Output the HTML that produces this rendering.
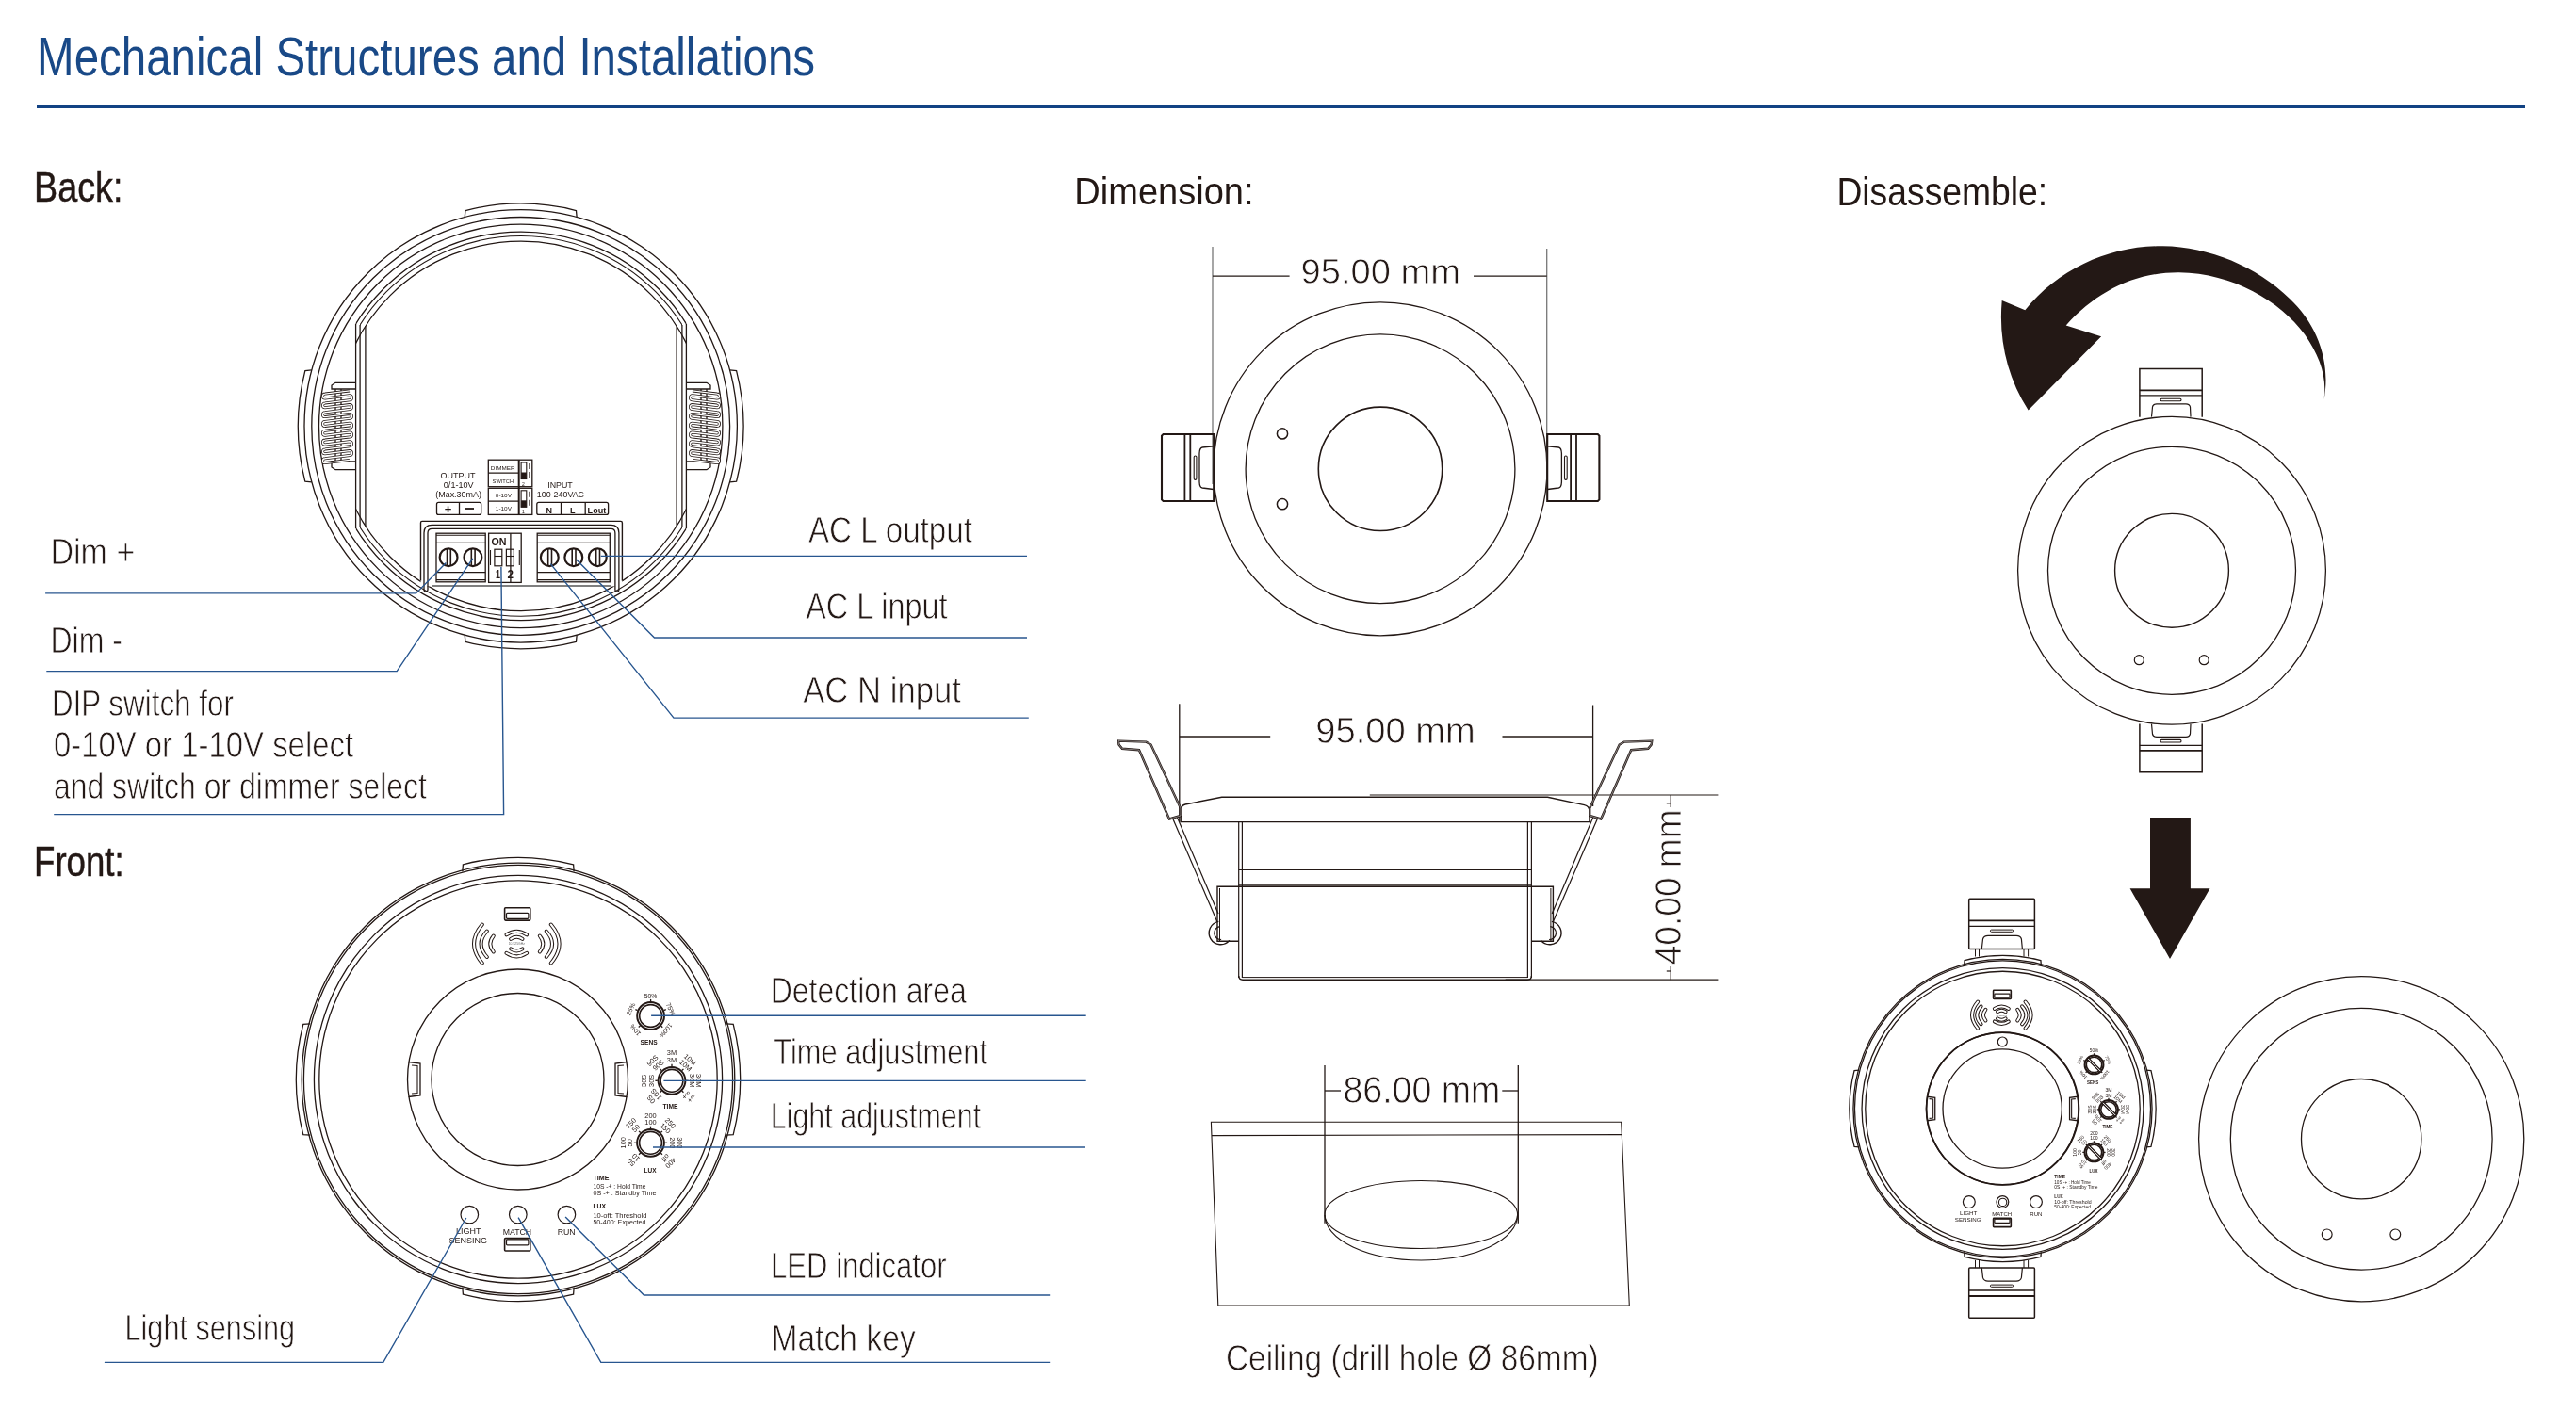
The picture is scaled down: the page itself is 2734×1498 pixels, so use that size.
<!DOCTYPE html>
<html><head><meta charset="utf-8"><style>
html,body{margin:0;padding:0;background:#fff;width:2734px;height:1498px;overflow:hidden}
svg{position:absolute;left:0;top:0;display:block;will-change:transform}
text{font-family:"Liberation Sans",sans-serif}
</style></head><body>
<svg width="2734" height="1498" viewBox="0 0 2734 1498">
<defs><clipPath id="strip"><rect x="377.6" y="0" width="350.8" height="1000"/></clipPath><clipPath id="strip2"><rect x="382.1" y="0" width="341.8" height="1000"/></clipPath><g id="front"><circle cx="550" cy="1146" r="229.8" stroke="#231815" vector-effect="non-scaling-stroke" stroke-width="1.3" fill="none" />
<circle cx="550" cy="1146" r="227.6" stroke="#231815" vector-effect="non-scaling-stroke" stroke-width="1.3" fill="none" />
<circle cx="550" cy="1146" r="216.6" stroke="#231815" vector-effect="non-scaling-stroke" stroke-width="1.3" fill="none" />
<circle cx="550" cy="1146" r="211.2" stroke="#231815" vector-effect="non-scaling-stroke" stroke-width="1.3" fill="none" />
<path d="M490.83 925.19 L491.41 917.8 A235.6 235.6 0 0 1 608.59 917.8 L609.17 925.19" stroke="#231815" vector-effect="non-scaling-stroke" stroke-width="1.3" fill="none" />
<path d="M609.17 1366.81 L608.59 1374.2 A235.6 235.6 0 0 1 491.41 1374.2 L490.83 1366.81" stroke="#231815" vector-effect="non-scaling-stroke" stroke-width="1.3" fill="none" />
<path d="M329.19 1205.17 L321.8 1204.59 A235.6 235.6 0 0 1 321.8 1087.41 L329.19 1086.83" stroke="#231815" vector-effect="non-scaling-stroke" stroke-width="1.3" fill="none" />
<path d="M770.81 1086.83 L778.2 1087.41 A235.6 235.6 0 0 1 778.2 1204.59 L770.81 1205.17" stroke="#231815" vector-effect="non-scaling-stroke" stroke-width="1.3" fill="none" />
<circle cx="549.5" cy="1146" r="117" stroke="#231815" vector-effect="non-scaling-stroke" stroke-width="1.3" fill="none" />
<circle cx="549.5" cy="1146" r="91.5" stroke="#231815" vector-effect="non-scaling-stroke" stroke-width="1.3" fill="none" />
<path d="M433.5 1127.5 L446 1129 L446 1163 L433.5 1164.5" stroke="#231815" vector-effect="non-scaling-stroke" stroke-width="1.3" fill="none" />
<path d="M437 1131 L443 1131.5 L443 1160.5 L437 1161" stroke="#231815" vector-effect="non-scaling-stroke" stroke-width="1.1" fill="none" />
<path d="M665.5 1127.5 L653 1129 L653 1163 L665.5 1164.5" stroke="#231815" vector-effect="non-scaling-stroke" stroke-width="1.3" fill="none" />
<path d="M662 1131 L656 1131.5 L656 1160.5 L662 1161" stroke="#231815" vector-effect="non-scaling-stroke" stroke-width="1.1" fill="none" />
<rect x="535.6" y="963.8" width="27.2" height="13.3" rx="1" stroke="#231815" vector-effect="non-scaling-stroke" stroke-width="1.6" fill="none"/>
<rect x="537.5" y="969.3" width="23.4" height="6" rx="1" stroke="#231815" vector-effect="non-scaling-stroke" stroke-width="1.2" fill="none"/>
<rect x="535.6" y="1314.6" width="27.2" height="13.4" rx="1" stroke="#231815" vector-effect="non-scaling-stroke" stroke-width="1.6" fill="none"/>
<rect x="537.5" y="1315.8" width="23.4" height="6" rx="1" stroke="#231815" vector-effect="non-scaling-stroke" stroke-width="1.2" fill="none"/>
<path d="M511.8 981.5 Q494.3 1002 511.8 1022.5" stroke="#231815" vector-effect="non-scaling-stroke" stroke-width='4.0' fill="none" stroke-linecap="round"/>
<path d="M511.8 981.5 Q494.3 1002 511.8 1022.5" stroke="#fff" vector-effect="non-scaling-stroke" stroke-width='2.0' fill="none" stroke-linecap="round"/>
<path d="M516.8 988.5 Q504.3 1002 516.8 1016" stroke="#231815" vector-effect="non-scaling-stroke" stroke-width='4.0' fill="none" stroke-linecap="round"/>
<path d="M516.8 988.5 Q504.3 1002 516.8 1016" stroke="#fff" vector-effect="non-scaling-stroke" stroke-width='2.0' fill="none" stroke-linecap="round"/>
<path d="M523.8 993.5 Q516.8 1002 523.8 1010.5" stroke="#231815" vector-effect="non-scaling-stroke" stroke-width='4.0' fill="none" stroke-linecap="round"/>
<path d="M523.8 993.5 Q516.8 1002 523.8 1010.5" stroke="#fff" vector-effect="non-scaling-stroke" stroke-width='2.0' fill="none" stroke-linecap="round"/>
<path d="M584.8 981.5 Q602.3 1002 584.8 1022.5" stroke="#231815" vector-effect="non-scaling-stroke" stroke-width='4.0' fill="none" stroke-linecap="round"/>
<path d="M584.8 981.5 Q602.3 1002 584.8 1022.5" stroke="#fff" vector-effect="non-scaling-stroke" stroke-width='2.0' fill="none" stroke-linecap="round"/>
<path d="M579.8 988.5 Q592.3 1002 579.8 1016" stroke="#231815" vector-effect="non-scaling-stroke" stroke-width='4.0' fill="none" stroke-linecap="round"/>
<path d="M579.8 988.5 Q592.3 1002 579.8 1016" stroke="#fff" vector-effect="non-scaling-stroke" stroke-width='2.0' fill="none" stroke-linecap="round"/>
<path d="M572.8 993.5 Q579.8 1002 572.8 1010.5" stroke="#231815" vector-effect="non-scaling-stroke" stroke-width='4.0' fill="none" stroke-linecap="round"/>
<path d="M572.8 993.5 Q579.8 1002 572.8 1010.5" stroke="#fff" vector-effect="non-scaling-stroke" stroke-width='2.0' fill="none" stroke-linecap="round"/>
<path d="M537.5 992.3 Q548.3 985.3 559.1 992.3" stroke="#231815" vector-effect="non-scaling-stroke" stroke-width='4.0' fill="none" stroke-linecap="round"/>
<path d="M537.5 992.3 Q548.3 985.3 559.1 992.3" stroke="#fff" vector-effect="non-scaling-stroke" stroke-width='2.0' fill="none" stroke-linecap="round"/>
<path d="M542.1 996.9 Q548.3 992.7 554.5 996.9" stroke="#231815" vector-effect="non-scaling-stroke" stroke-width='4.0' fill="none" stroke-linecap="round"/>
<path d="M542.1 996.9 Q548.3 992.7 554.5 996.9" stroke="#fff" vector-effect="non-scaling-stroke" stroke-width='2.0' fill="none" stroke-linecap="round"/>
<path d="M537.5 1011.9 Q548.3 1018.9 559.1 1011.9" stroke="#231815" vector-effect="non-scaling-stroke" stroke-width='4.0' fill="none" stroke-linecap="round"/>
<path d="M537.5 1011.9 Q548.3 1018.9 559.1 1011.9" stroke="#fff" vector-effect="non-scaling-stroke" stroke-width='2.0' fill="none" stroke-linecap="round"/>
<path d="M542.1 1007.3 Q548.3 1011.5 554.5 1007.3" stroke="#231815" vector-effect="non-scaling-stroke" stroke-width='4.0' fill="none" stroke-linecap="round"/>
<path d="M542.1 1007.3 Q548.3 1011.5 554.5 1007.3" stroke="#fff" vector-effect="non-scaling-stroke" stroke-width='2.0' fill="none" stroke-linecap="round"/>
<text x="0" y="0" font-size="34" fill="#666" text-anchor="middle" font-weight="normal"  transform="translate(548.3 1003.3) scale(0.1)">10.525GHz</text>
<circle cx="690.6" cy="1078.5" r="14.4" stroke="#231815" vector-effect="non-scaling-stroke" stroke-width="2.0" fill="none" />
<circle cx="690.6" cy="1078.5" r="11.9" stroke="#231815" vector-effect="non-scaling-stroke" stroke-width="1.6" fill="none" />
<line x1="690.6" y1="1063.3" x2="690.6" y2="1060.9" stroke="#231815" vector-effect="non-scaling-stroke" stroke-width="1.3"/>
<line x1="676.61" y1="1072.56" x2="674.4" y2="1071.62" stroke="#231815" vector-effect="non-scaling-stroke" stroke-width="1.3"/>
<line x1="704.59" y1="1072.56" x2="706.8" y2="1071.62" stroke="#231815" vector-effect="non-scaling-stroke" stroke-width="1.3"/>
<line x1="679.48" y1="1088.87" x2="677.73" y2="1090.5" stroke="#231815" vector-effect="non-scaling-stroke" stroke-width="1.3"/>
<line x1="701.53" y1="1089.06" x2="703.26" y2="1090.73" stroke="#231815" vector-effect="non-scaling-stroke" stroke-width="1.3"/>
<text x="0" y="0" font-size="68" fill="#231815" text-anchor="middle" dominant-baseline="central" transform="translate(690.6 1057) rotate(0) scale(0.1)">50%</text>
<text x="0" y="0" font-size="68" fill="#231815" text-anchor="middle" dominant-baseline="central" transform="translate(669.33 1071.17) rotate(-65) scale(0.1)">25%</text>
<text x="0" y="0" font-size="68" fill="#231815" text-anchor="middle" dominant-baseline="central" transform="translate(711.87 1071.17) rotate(65) scale(0.1)">75%</text>
<text x="0" y="0" font-size="68" fill="#231815" text-anchor="middle" dominant-baseline="central" transform="translate(674.29 1093.71) rotate(-130) scale(0.1)">10%</text>
<text x="0" y="0" font-size="68" fill="#231815" text-anchor="middle" dominant-baseline="central" transform="translate(706.79 1094.13) rotate(130) scale(0.1)">100%</text>
<text x="0" y="0" font-size="66" fill="#231815" text-anchor="middle" font-weight="bold" textLength="180" lengthAdjust="spacingAndGlyphs"  transform="translate(688.6 1108.6) scale(0.1)">SENS</text>
<circle cx="713" cy="1147.3" r="14.4" stroke="#231815" vector-effect="non-scaling-stroke" stroke-width="2.0" fill="none" />
<circle cx="713" cy="1147.3" r="11.9" stroke="#231815" vector-effect="non-scaling-stroke" stroke-width="1.6" fill="none" />
<line x1="713" y1="1132.1" x2="713" y2="1129.7" stroke="#231815" vector-effect="non-scaling-stroke" stroke-width="1.3"/>
<line x1="702.25" y1="1136.55" x2="700.55" y2="1134.85" stroke="#231815" vector-effect="non-scaling-stroke" stroke-width="1.3"/>
<line x1="723.75" y1="1136.55" x2="725.45" y2="1134.85" stroke="#231815" vector-effect="non-scaling-stroke" stroke-width="1.3"/>
<line x1="697.8" y1="1147.3" x2="695.4" y2="1147.3" stroke="#231815" vector-effect="non-scaling-stroke" stroke-width="1.3"/>
<line x1="728.2" y1="1147.3" x2="730.6" y2="1147.3" stroke="#231815" vector-effect="non-scaling-stroke" stroke-width="1.3"/>
<line x1="702.25" y1="1158.05" x2="700.55" y2="1159.75" stroke="#231815" vector-effect="non-scaling-stroke" stroke-width="1.3"/>
<line x1="723.75" y1="1158.05" x2="725.45" y2="1159.75" stroke="#231815" vector-effect="non-scaling-stroke" stroke-width="1.3"/>
<text x="0" y="0" font-size="74" fill="#231815" text-anchor="middle" dominant-baseline="central" transform="translate(713 1125) rotate(0) scale(0.1)">3M</text>
<text x="0" y="0" font-size="74" fill="#231815" text-anchor="middle" dominant-baseline="central" transform="translate(713 1117.5) rotate(0) scale(0.1)">3M</text>
<text x="0" y="0" font-size="74" fill="#231815" text-anchor="middle" dominant-baseline="central" transform="translate(727.59 1131.1) rotate(42) scale(0.1)">10M</text>
<text x="0" y="0" font-size="74" fill="#231815" text-anchor="middle" dominant-baseline="central" transform="translate(732.42 1124.96) rotate(41) scale(0.1)">10M</text>
<text x="0" y="0" font-size="74" fill="#231815" text-anchor="middle" dominant-baseline="central" transform="translate(734.8 1147.3) rotate(90) scale(0.1)">30M</text>
<text x="0" y="0" font-size="74" fill="#231815" text-anchor="middle" dominant-baseline="central" transform="translate(741.8 1147.3) rotate(90) scale(0.1)">30M</text>
<text x="0" y="0" font-size="74" fill="#231815" text-anchor="middle" dominant-baseline="central" transform="translate(728.41 1162.71) rotate(135) scale(0.1)">∞+</text>
<text x="0" y="0" font-size="74" fill="#231815" text-anchor="middle" dominant-baseline="central" transform="translate(733.81 1166.04) rotate(132) scale(0.1)">∞+</text>
<text x="0" y="0" font-size="74" fill="#231815" text-anchor="middle" dominant-baseline="central" transform="translate(698.7 1130.85) rotate(-41) scale(0.1)">90S</text>
<text x="0" y="0" font-size="74" fill="#231815" text-anchor="middle" dominant-baseline="central" transform="translate(692.51 1126.08) rotate(-44) scale(0.1)">90S</text>
<text x="0" y="0" font-size="74" fill="#231815" text-anchor="middle" dominant-baseline="central" transform="translate(691.7 1147.3) rotate(270) scale(0.1)">30S</text>
<text x="0" y="0" font-size="74" fill="#231815" text-anchor="middle" dominant-baseline="central" transform="translate(683.7 1147.3) rotate(270) scale(0.1)">30S</text>
<text x="0" y="0" font-size="74" fill="#231815" text-anchor="middle" dominant-baseline="central" transform="translate(696.55 1161.6) rotate(229) scale(0.1)">10S</text>
<text x="0" y="0" font-size="74" fill="#231815" text-anchor="middle" dominant-baseline="central" transform="translate(691.08 1167.04) rotate(228) scale(0.1)">0S</text>
<text x="0" y="0" font-size="66" fill="#231815" text-anchor="middle" font-weight="bold" textLength="160" lengthAdjust="spacingAndGlyphs"  transform="translate(711.5 1177) scale(0.1)">TIME</text>
<circle cx="690.5" cy="1213.3" r="14.4" stroke="#231815" vector-effect="non-scaling-stroke" stroke-width="2.0" fill="none" />
<circle cx="690.5" cy="1213.3" r="11.9" stroke="#231815" vector-effect="non-scaling-stroke" stroke-width="1.6" fill="none" />
<line x1="690.5" y1="1198.1" x2="690.5" y2="1195.7" stroke="#231815" vector-effect="non-scaling-stroke" stroke-width="1.3"/>
<line x1="679.75" y1="1202.55" x2="678.05" y2="1200.85" stroke="#231815" vector-effect="non-scaling-stroke" stroke-width="1.3"/>
<line x1="701.25" y1="1202.55" x2="702.95" y2="1200.85" stroke="#231815" vector-effect="non-scaling-stroke" stroke-width="1.3"/>
<line x1="675.3" y1="1213.3" x2="672.9" y2="1213.3" stroke="#231815" vector-effect="non-scaling-stroke" stroke-width="1.3"/>
<line x1="705.7" y1="1213.3" x2="708.1" y2="1213.3" stroke="#231815" vector-effect="non-scaling-stroke" stroke-width="1.3"/>
<line x1="679.75" y1="1224.05" x2="678.05" y2="1225.75" stroke="#231815" vector-effect="non-scaling-stroke" stroke-width="1.3"/>
<line x1="701.25" y1="1224.05" x2="702.95" y2="1225.75" stroke="#231815" vector-effect="non-scaling-stroke" stroke-width="1.3"/>
<text x="0" y="0" font-size="74" fill="#231815" text-anchor="middle" dominant-baseline="central" transform="translate(690.5 1191.3) rotate(0) scale(0.1)">100</text>
<text x="0" y="0" font-size="74" fill="#231815" text-anchor="middle" dominant-baseline="central" transform="translate(690.5 1184.3) rotate(0) scale(0.1)">200</text>
<text x="0" y="0" font-size="74" fill="#231815" text-anchor="middle" dominant-baseline="central" transform="translate(674.94 1197.74) rotate(-45) scale(0.1)">50</text>
<text x="0" y="0" font-size="74" fill="#231815" text-anchor="middle" dominant-baseline="central" transform="translate(669.64 1192.44) rotate(-45) scale(0.1)">150</text>
<text x="0" y="0" font-size="74" fill="#231815" text-anchor="middle" dominant-baseline="central" transform="translate(706.06 1197.74) rotate(45) scale(0.1)">150</text>
<text x="0" y="0" font-size="74" fill="#231815" text-anchor="middle" dominant-baseline="central" transform="translate(711.36 1192.44) rotate(45) scale(0.1)">250</text>
<text x="0" y="0" font-size="74" fill="#231815" text-anchor="middle" dominant-baseline="central" transform="translate(668.5 1213.3) rotate(270) scale(0.1)">50</text>
<text x="0" y="0" font-size="74" fill="#231815" text-anchor="middle" dominant-baseline="central" transform="translate(661.5 1213.3) rotate(270) scale(0.1)">100</text>
<text x="0" y="0" font-size="74" fill="#231815" text-anchor="middle" dominant-baseline="central" transform="translate(713.5 1213.3) rotate(90) scale(0.1)">200</text>
<text x="0" y="0" font-size="74" fill="#231815" text-anchor="middle" dominant-baseline="central" transform="translate(721 1213.3) rotate(90) scale(0.1)">300</text>
<text x="0" y="0" font-size="74" fill="#231815" text-anchor="middle" dominant-baseline="central" transform="translate(674.94 1228.86) rotate(225) scale(0.1)">10</text>
<text x="0" y="0" font-size="74" fill="#231815" text-anchor="middle" dominant-baseline="central" transform="translate(669.99 1233.81) rotate(225) scale(0.1)">50</text>
<text x="0" y="0" font-size="74" fill="#231815" text-anchor="middle" dominant-baseline="central" transform="translate(706.41 1229.21) rotate(135) scale(0.1)">off</text>
<text x="0" y="0" font-size="74" fill="#231815" text-anchor="middle" dominant-baseline="central" transform="translate(711.71 1234.51) rotate(135) scale(0.1)">400</text>
<text x="0" y="0" font-size="66" fill="#231815" text-anchor="middle" font-weight="bold" textLength="130" lengthAdjust="spacingAndGlyphs"  transform="translate(690 1244.8) scale(0.1)">LUX</text>
<text x="0" y="0" font-size="64" fill="#231815" text-anchor="start" font-weight="bold" textLength="170" lengthAdjust="spacingAndGlyphs"  transform="translate(629.4 1252.6) scale(0.1)">TIME</text>
<text x="0" y="0" font-size="70" fill="#231815" text-anchor="start" font-weight="normal" textLength="560" lengthAdjust="spacingAndGlyphs"  transform="translate(629.4 1262) scale(0.1)">10S -+ : Hold Time</text>
<text x="0" y="0" font-size="70" fill="#231815" text-anchor="start" font-weight="normal" textLength="670" lengthAdjust="spacingAndGlyphs"  transform="translate(629.4 1269) scale(0.1)">0S -+ :   Standby Time</text>
<text x="0" y="0" font-size="64" fill="#231815" text-anchor="start" font-weight="bold" textLength="135" lengthAdjust="spacingAndGlyphs"  transform="translate(629.4 1283.3) scale(0.1)">LUX</text>
<text x="0" y="0" font-size="70" fill="#231815" text-anchor="start" font-weight="normal" textLength="570" lengthAdjust="spacingAndGlyphs"  transform="translate(629.4 1292.8) scale(0.1)">10-off:   Threshold</text>
<text x="0" y="0" font-size="70" fill="#231815" text-anchor="start" font-weight="normal" textLength="560" lengthAdjust="spacingAndGlyphs"  transform="translate(629.4 1300.2) scale(0.1)">50-400: Expected</text>
<circle cx="498.3" cy="1289.6" r="9.3" stroke="#231815" vector-effect="non-scaling-stroke" stroke-width="1.2" fill="none" />
<circle cx="549.8" cy="1289.6" r="9.3" stroke="#231815" vector-effect="non-scaling-stroke" stroke-width="1.2" fill="none" />
<circle cx="601.4" cy="1289.6" r="9.3" stroke="#231815" vector-effect="non-scaling-stroke" stroke-width="1.2" fill="none" />
<text x="0" y="0" font-size="89" fill="#231815" text-anchor="middle" font-weight="normal" textLength="264" lengthAdjust="spacingAndGlyphs"  transform="translate(497.2 1309.8) scale(0.1)">LIGHT</text>
<text x="0" y="0" font-size="89" fill="#231815" text-anchor="middle" font-weight="normal" textLength="404" lengthAdjust="spacingAndGlyphs"  transform="translate(496.7 1319.7) scale(0.1)">SENSING</text>
<text x="0" y="0" font-size="89" fill="#231815" text-anchor="middle" font-weight="normal" textLength="304" lengthAdjust="spacingAndGlyphs"  transform="translate(548.9 1311) scale(0.1)">MATCH</text>
<text x="0" y="0" font-size="89" fill="#231815" text-anchor="middle" font-weight="normal" textLength="190" lengthAdjust="spacingAndGlyphs"  transform="translate(601.2 1311) scale(0.1)">RUN</text></g></defs>
<text x="39.1" y="80" font-size="57.27" fill="#194987" text-anchor="start" font-weight="normal" textLength="826" lengthAdjust="spacingAndGlyphs" >Mechanical Structures and Installations</text>
<rect x="39" y="112" width="2641" height="3" rx="0" stroke="#231815" stroke-width="0" fill="#124283"/>
<text x="36" y="213.7" font-size="44.19" fill="#231815" text-anchor="start" font-weight="normal" textLength="94.4" lengthAdjust="spacingAndGlyphs"  stroke="#231815" stroke-width="0.5">Back:</text>
<text x="36" y="929.7" font-size="43.9" fill="#231815" text-anchor="start" font-weight="normal" textLength="95.7" lengthAdjust="spacingAndGlyphs"  stroke="#231815" stroke-width="0.5">Front:</text>
<text x="1140.3" y="217" font-size="41.42" fill="#231815" text-anchor="start" font-weight="normal" textLength="190.2" lengthAdjust="spacingAndGlyphs" >Dimension:</text>
<text x="1949.4" y="217.5" font-size="42.15" fill="#231815" text-anchor="start" font-weight="normal" textLength="223.8" lengthAdjust="spacingAndGlyphs" >Disassemble:</text>
<circle cx="552.7" cy="452.4" r="229.7" stroke="#231815" stroke-width="1.3" fill="none" />
<circle cx="552.7" cy="452.4" r="221.9" stroke="#231815" stroke-width="1.3" fill="none" />
<circle cx="552.7" cy="452.4" r="214.2" stroke="#231815" stroke-width="1.3" fill="none" />
<g clip-path="url(#strip)">
<circle cx="553" cy="452.4" r="206.3" stroke="#231815" stroke-width="1.3" fill="none" />
<circle cx="553" cy="452.4" r="196.3" stroke="#231815" stroke-width="1.3" fill="none" />
</g>
<g clip-path="url(#strip2)">
<circle cx="553" cy="452.4" r="201.9" stroke="#231815" stroke-width="1.1" fill="none" />
</g>
<line x1="377.6" y1="343.8" x2="377.6" y2="561" stroke="#231815" stroke-width="1.3"/>
<line x1="728.4" y1="343.8" x2="728.4" y2="561" stroke="#231815" stroke-width="1.3"/>
<line x1="382.1" y1="344.9" x2="382.1" y2="559.9" stroke="#231815" stroke-width="1.3"/>
<line x1="723.9" y1="344.9" x2="723.9" y2="559.9" stroke="#231815" stroke-width="1.3"/>
<line x1="387.9" y1="346.21" x2="387.9" y2="558.59" stroke="#231815" stroke-width="1.3"/>
<line x1="718.1" y1="346.21" x2="718.1" y2="558.59" stroke="#231815" stroke-width="1.3"/>
<path d="M493.25 230.53 L493.93 223.52 A236.3 236.3 0 0 1 611.47 223.52 L612.15 230.53" stroke="#231815" stroke-width="1.3" fill="none" />
<path d="M612.15 674.27 L611.47 681.28 A236.3 236.3 0 0 1 493.93 681.28 L493.25 674.27" stroke="#231815" stroke-width="1.3" fill="none" />
<path d="M330.83 511.85 L323.82 511.17 A236.3 236.3 0 0 1 323.82 393.63 L330.83 392.95" stroke="#231815" stroke-width="1.3" fill="none" />
<path d="M774.57 392.95 L781.58 393.63 A236.3 236.3 0 0 1 781.58 511.17 L774.57 511.85" stroke="#231815" stroke-width="1.3" fill="none" />
<path d="M377 406.3 L356 406.3 L352 409 L352 413 L377 413" stroke="#231815" stroke-width="1.3" fill="none"/>
<path d="M377 498.7 L356 498.7 L352 496 L352 490 L377 490" stroke="#231815" stroke-width="1.3" fill="none"/>
<line x1="356" y1="413" x2="356" y2="490" stroke="#231815" stroke-width="1.3"/>
<line x1="362" y1="413" x2="362" y2="490" stroke="#231815" stroke-width="1.3"/>
<path d="M371 414.9 L345 418.1 A2.45 2.45 0 0 0 345 423 L371 419.8 A2.45 2.45 0 0 1 371 424.7 L345 427.9 A2.45 2.45 0 0 0 345 432.8 L371 429.6 A2.45 2.45 0 0 1 371 434.5 L345 437.7 A2.45 2.45 0 0 0 345 442.6 L371 439.4 A2.45 2.45 0 0 1 371 444.3 L345 447.5 A2.45 2.45 0 0 0 345 452.4 L371 449.2 A2.45 2.45 0 0 1 371 454.1 L345 457.3 A2.45 2.45 0 0 0 345 462.2 L371 459 A2.45 2.45 0 0 1 371 463.9 L345 467.1 A2.45 2.45 0 0 0 345 472 L371 468.8 A2.45 2.45 0 0 1 371 473.7 L345 476.9 A2.45 2.45 0 0 0 345 481.8 L371 478.6 A2.45 2.45 0 0 1 371 483.5 L345 486.7 A2.45 2.45 0 0 0 345 491.6 L371 488.4 " stroke="#231815" stroke-width="3.0" fill="none" stroke-linejoin="round"/>
<path d="M371 414.9 L345 418.1 A2.45 2.45 0 0 0 345 423 L371 419.8 A2.45 2.45 0 0 1 371 424.7 L345 427.9 A2.45 2.45 0 0 0 345 432.8 L371 429.6 A2.45 2.45 0 0 1 371 434.5 L345 437.7 A2.45 2.45 0 0 0 345 442.6 L371 439.4 A2.45 2.45 0 0 1 371 444.3 L345 447.5 A2.45 2.45 0 0 0 345 452.4 L371 449.2 A2.45 2.45 0 0 1 371 454.1 L345 457.3 A2.45 2.45 0 0 0 345 462.2 L371 459 A2.45 2.45 0 0 1 371 463.9 L345 467.1 A2.45 2.45 0 0 0 345 472 L371 468.8 A2.45 2.45 0 0 1 371 473.7 L345 476.9 A2.45 2.45 0 0 0 345 481.8 L371 478.6 A2.45 2.45 0 0 1 371 483.5 L345 486.7 A2.45 2.45 0 0 0 345 491.6 L371 488.4 " stroke="#fff" stroke-width="1.45" fill="none" stroke-linejoin="round"/>
<path d="M729 406.3 L750 406.3 L754 409 L754 413 L729 413" stroke="#231815" stroke-width="1.3" fill="none"/>
<path d="M729 498.7 L750 498.7 L754 496 L754 490 L729 490" stroke="#231815" stroke-width="1.3" fill="none"/>
<line x1="750" y1="413" x2="750" y2="490" stroke="#231815" stroke-width="1.3"/>
<line x1="744" y1="413" x2="744" y2="490" stroke="#231815" stroke-width="1.3"/>
<path d="M735 414.9 L761 418.1 A2.45 2.45 0 0 1 761 423 L735 419.8 A2.45 2.45 0 0 0 735 424.7 L761 427.9 A2.45 2.45 0 0 1 761 432.8 L735 429.6 A2.45 2.45 0 0 0 735 434.5 L761 437.7 A2.45 2.45 0 0 1 761 442.6 L735 439.4 A2.45 2.45 0 0 0 735 444.3 L761 447.5 A2.45 2.45 0 0 1 761 452.4 L735 449.2 A2.45 2.45 0 0 0 735 454.1 L761 457.3 A2.45 2.45 0 0 1 761 462.2 L735 459 A2.45 2.45 0 0 0 735 463.9 L761 467.1 A2.45 2.45 0 0 1 761 472 L735 468.8 A2.45 2.45 0 0 0 735 473.7 L761 476.9 A2.45 2.45 0 0 1 761 481.8 L735 478.6 A2.45 2.45 0 0 0 735 483.5 L761 486.7 A2.45 2.45 0 0 1 761 491.6 L735 488.4 " stroke="#231815" stroke-width="3.0" fill="none" stroke-linejoin="round"/>
<path d="M735 414.9 L761 418.1 A2.45 2.45 0 0 1 761 423 L735 419.8 A2.45 2.45 0 0 0 735 424.7 L761 427.9 A2.45 2.45 0 0 1 761 432.8 L735 429.6 A2.45 2.45 0 0 0 735 434.5 L761 437.7 A2.45 2.45 0 0 1 761 442.6 L735 439.4 A2.45 2.45 0 0 0 735 444.3 L761 447.5 A2.45 2.45 0 0 1 761 452.4 L735 449.2 A2.45 2.45 0 0 0 735 454.1 L761 457.3 A2.45 2.45 0 0 1 761 462.2 L735 459 A2.45 2.45 0 0 0 735 463.9 L761 467.1 A2.45 2.45 0 0 1 761 472 L735 468.8 A2.45 2.45 0 0 0 735 473.7 L761 476.9 A2.45 2.45 0 0 1 761 481.8 L735 478.6 A2.45 2.45 0 0 0 735 483.5 L761 486.7 A2.45 2.45 0 0 1 761 491.6 L735 488.4 " stroke="#fff" stroke-width="1.45" fill="none" stroke-linejoin="round"/>
<rect x="446.5" y="553.4" width="213.9" height="69" rx="0" stroke="#231815" stroke-width="0" fill="#fff"/>
<path d="M446.5 616.6 L446.5 555 Q446.5 553.4 448 553.4 L658.8 553.4 Q660.4 553.4 660.4 555 L660.4 616.6" stroke="#231815" stroke-width="1.4" fill="none" />
<path d="M450 626 L450 565.7 Q450 557.3 458.4 557.3 L648.5 557.3 Q656.9 557.3 656.9 565.7 L656.9 626" stroke="#231815" stroke-width="1.3" fill="none" />
<path d="M454 626 L454 565.9 Q454 561.4 458.5 561.4 L648.4 561.4 Q652.9 561.4 652.9 565.9 L652.9 626" stroke="#231815" stroke-width="1.3" fill="none" />
<path d="M450 626 A2 2 0 0 0 454 626" stroke="#231815" stroke-width="1.2" fill="none" />
<path d="M652.9 626 A2 2 0 0 0 656.9 626" stroke="#231815" stroke-width="1.2" fill="none" />
<line x1="459" y1="622" x2="648" y2="622" stroke="#555" stroke-width="1.3"/>
<rect x="463" y="566.2" width="52.2" height="51.6" rx="0" stroke="#231815" stroke-width="1.3" fill="none"/>
<line x1="463" y1="568.2" x2="515.2" y2="568.2" stroke="#231815" stroke-width="1.1"/>
<line x1="463" y1="576.3" x2="515.2" y2="576.3" stroke="#231815" stroke-width="1.1"/>
<line x1="463" y1="607.6" x2="515.2" y2="607.6" stroke="#231815" stroke-width="1.1"/>
<line x1="463" y1="615.6" x2="515.2" y2="615.6" stroke="#231815" stroke-width="1.1"/>
<rect x="570.2" y="566.2" width="77.1" height="51.6" rx="0" stroke="#231815" stroke-width="1.3" fill="none"/>
<line x1="570.2" y1="568.2" x2="647.3" y2="568.2" stroke="#231815" stroke-width="1.1"/>
<line x1="570.2" y1="576.3" x2="647.3" y2="576.3" stroke="#231815" stroke-width="1.1"/>
<line x1="570.2" y1="607.6" x2="647.3" y2="607.6" stroke="#231815" stroke-width="1.1"/>
<line x1="570.2" y1="615.6" x2="647.3" y2="615.6" stroke="#231815" stroke-width="1.1"/>
<circle cx="476.1" cy="591.7" r="9.4" stroke="#231815" stroke-width="2.2" fill="none" />
<line x1="474.5" y1="582.7" x2="474.5" y2="600.7" stroke="#231815" stroke-width="1.6"/>
<line x1="478.3" y1="582.7" x2="478.3" y2="600.7" stroke="#231815" stroke-width="1.6"/>
<circle cx="501.9" cy="591.7" r="9.4" stroke="#231815" stroke-width="2.2" fill="none" />
<line x1="500.3" y1="582.7" x2="500.3" y2="600.7" stroke="#231815" stroke-width="1.6"/>
<line x1="504.1" y1="582.7" x2="504.1" y2="600.7" stroke="#231815" stroke-width="1.6"/>
<circle cx="583.3" cy="591.7" r="9.4" stroke="#231815" stroke-width="2.2" fill="none" />
<line x1="581.7" y1="582.7" x2="581.7" y2="600.7" stroke="#231815" stroke-width="1.6"/>
<line x1="585.5" y1="582.7" x2="585.5" y2="600.7" stroke="#231815" stroke-width="1.6"/>
<circle cx="608.8" cy="591.7" r="9.4" stroke="#231815" stroke-width="2.2" fill="none" />
<line x1="607.2" y1="582.7" x2="607.2" y2="600.7" stroke="#231815" stroke-width="1.6"/>
<line x1="611" y1="582.7" x2="611" y2="600.7" stroke="#231815" stroke-width="1.6"/>
<circle cx="634.3" cy="591.7" r="9.4" stroke="#231815" stroke-width="2.2" fill="none" />
<line x1="632.7" y1="582.7" x2="632.7" y2="600.7" stroke="#231815" stroke-width="1.6"/>
<line x1="636.5" y1="582.7" x2="636.5" y2="600.7" stroke="#231815" stroke-width="1.6"/>
<rect x="518.6" y="566.2" width="34.6" height="52.2" rx="0" stroke="#231815" stroke-width="1.3" fill="none"/>
<line x1="541.9" y1="566.2" x2="541.9" y2="618.4" stroke="#231815" stroke-width="1.3"/>
<text x="0" y="0" font-size="110" fill="#231815" text-anchor="start" font-weight="bold" textLength="160" lengthAdjust="spacingAndGlyphs"  transform="translate(521.5 578.7) scale(0.1)">ON</text>
<rect x="524.9" y="583.2" width="7.9" height="17.6" rx="0" stroke="#231815" stroke-width="1.2" fill="none"/>
<line x1="524.9" y1="590.5" x2="532.8" y2="590.5" stroke="#231815" stroke-width="1.1"/>
<rect x="537.4" y="583.2" width="7.9" height="17.6" rx="0" stroke="#231815" stroke-width="1.2" fill="none"/>
<line x1="537.4" y1="590.5" x2="545.3" y2="590.5" stroke="#231815" stroke-width="1.1"/>
<line x1="520.5" y1="584" x2="520.5" y2="600" stroke="#231815" stroke-width="1.1"/>
<line x1="551.3" y1="584" x2="551.3" y2="600" stroke="#231815" stroke-width="1.1"/>
<text x="0" y="0" font-size="120" fill="#231815" text-anchor="start" font-weight="bold" textLength="50" lengthAdjust="spacingAndGlyphs"  transform="translate(526 614.4) scale(0.1)">1</text>
<text x="0" y="0" font-size="120" fill="#231815" text-anchor="start" font-weight="bold" textLength="65" lengthAdjust="spacingAndGlyphs"  transform="translate(538.5 614.4) scale(0.1)">2</text>
<text x="0" y="0" font-size="86" fill="#231815" text-anchor="middle" font-weight="normal" textLength="370" lengthAdjust="spacingAndGlyphs"  transform="translate(486 507.7) scale(0.1)">OUTPUT</text>
<text x="0" y="0" font-size="86" fill="#231815" text-anchor="middle" font-weight="normal" textLength="318" lengthAdjust="spacingAndGlyphs"  transform="translate(486.7 517.9) scale(0.1)">0/1-10V</text>
<text x="0" y="0" font-size="86" fill="#231815" text-anchor="middle" font-weight="normal" textLength="489" lengthAdjust="spacingAndGlyphs"  transform="translate(486.6 527.7) scale(0.1)">(Max.30mA)</text>
<rect x="463.5" y="533.4" width="47.2" height="13" rx="2" stroke="#231815" stroke-width="1.3" fill="none"/>
<line x1="487.5" y1="533.4" x2="487.5" y2="546.4" stroke="#231815" stroke-width="1.3"/>
<text x="0" y="0" font-size="130" fill="#231815" text-anchor="middle" font-weight="bold"  transform="translate(475.5 544.5) scale(0.1)">+</text>
<line x1="494" y1="540" x2="503" y2="540" stroke="#231815" stroke-width="1.8"/>
<rect x="518.3" y="488.2" width="46.5" height="28.5" rx="0" stroke="#231815" stroke-width="1.3" fill="none"/>
<rect x="518.3" y="518.3" width="46.5" height="28.1" rx="0" stroke="#231815" stroke-width="1.3" fill="none"/>
<line x1="550.7" y1="488.2" x2="550.7" y2="546.4" stroke="#231815" stroke-width="2"/>
<line x1="518.3" y1="502.2" x2="550.7" y2="502.2" stroke="#231815" stroke-width="1.3"/>
<line x1="518.3" y1="532.2" x2="550.7" y2="532.2" stroke="#231815" stroke-width="1.3"/>
<text x="0" y="0" font-size="56" fill="#231815" text-anchor="middle" font-weight="normal" textLength="257" lengthAdjust="spacingAndGlyphs"  transform="translate(533.7 498.7) scale(0.1)">DIMMER</text>
<text x="0" y="0" font-size="56" fill="#231815" text-anchor="middle" font-weight="normal" textLength="224" lengthAdjust="spacingAndGlyphs"  transform="translate(533.8 512.6) scale(0.1)">SWITCH</text>
<text x="0" y="0" font-size="56" fill="#231815" text-anchor="middle" font-weight="normal" textLength="172" lengthAdjust="spacingAndGlyphs"  transform="translate(534.4 527.7) scale(0.1)">0-10V</text>
<text x="0" y="0" font-size="56" fill="#231815" text-anchor="middle" font-weight="normal" textLength="172" lengthAdjust="spacingAndGlyphs"  transform="translate(534.4 541.5) scale(0.1)">1-10V</text>
<rect x="553.1" y="491" width="5.7" height="17.5" rx="0" stroke="#231815" stroke-width="1.1" fill="none"/>
<rect x="553.1" y="501.5" width="5.7" height="7" rx="0" stroke="#231815" stroke-width="0" fill="#231815"/>
<rect x="553.1" y="520.8" width="5.7" height="17.5" rx="0" stroke="#231815" stroke-width="1.1" fill="none"/>
<rect x="553.1" y="531.3" width="5.7" height="7" rx="0" stroke="#231815" stroke-width="0" fill="#231815"/>
<line x1="561.7" y1="492" x2="561.7" y2="498" stroke="#231815" stroke-width="0.8"/>
<line x1="561.7" y1="501" x2="561.7" y2="507" stroke="#231815" stroke-width="0.8"/>
<line x1="561.7" y1="521.8" x2="561.7" y2="527.8" stroke="#231815" stroke-width="0.8"/>
<line x1="561.7" y1="530.8" x2="561.7" y2="536.8" stroke="#231815" stroke-width="0.8"/>
<text x="0" y="0" font-size="50" fill="#231815" text-anchor="middle" font-weight="normal"  transform="translate(555.5 515.9) scale(0.1)">2</text>
<text x="0" y="0" font-size="50" fill="#231815" text-anchor="middle" font-weight="normal"  transform="translate(555.5 544.8) scale(0.1)">1</text>
<text x="0" y="0" font-size="86" fill="#231815" text-anchor="middle" font-weight="normal" textLength="265" lengthAdjust="spacingAndGlyphs"  transform="translate(594.5 517.9) scale(0.1)">INPUT</text>
<text x="0" y="0" font-size="86" fill="#231815" text-anchor="middle" font-weight="normal" textLength="502" lengthAdjust="spacingAndGlyphs"  transform="translate(594.9 527.7) scale(0.1)">100-240VAC</text>
<rect x="569.8" y="533.4" width="75.8" height="13" rx="2" stroke="#231815" stroke-width="1.3" fill="none"/>
<line x1="595.5" y1="533.4" x2="595.5" y2="546.4" stroke="#231815" stroke-width="1.3"/>
<line x1="621.2" y1="533.4" x2="621.2" y2="546.4" stroke="#231815" stroke-width="1.3"/>
<text x="0" y="0" font-size="90" fill="#231815" text-anchor="middle" font-weight="bold"  transform="translate(582.8 544.6) scale(0.1)">N</text>
<text x="0" y="0" font-size="90" fill="#231815" text-anchor="middle" font-weight="bold"  transform="translate(607.8 544.6) scale(0.1)">L</text>
<text x="0" y="0" font-size="90" fill="#231815" text-anchor="middle" font-weight="bold" textLength="196" lengthAdjust="spacingAndGlyphs"  transform="translate(633.4 544.6) scale(0.1)">Lout</text>
<path d="M473.4 597.4 L441.6 629.9 L48.1 629.9" stroke="#28568f" stroke-width="1.4" fill="none"/>
<path d="M501.7 592.9 L421.2 712.6 L49.3 712.6" stroke="#28568f" stroke-width="1.4" fill="none"/>
<path d="M531.9 602 L534.6 864.6 L57.2 864.6" stroke="#28568f" stroke-width="1.4" fill="none"/>
<path d="M637.7 590.4 L1090 590.4" stroke="#28568f" stroke-width="1.4" fill="none"/>
<path d="M611.6 594 L694.5 677 L1090 677" stroke="#28568f" stroke-width="1.4" fill="none"/>
<path d="M584.4 598.6 L715 762.1 L1091.8 762.1" stroke="#28568f" stroke-width="1.4" fill="none"/>
<text x="53.4" y="599" font-size="39.1" fill="#231815" text-anchor="start" font-weight="normal" textLength="89.9" lengthAdjust="spacingAndGlyphs"  stroke="#fff" stroke-width="0.8">Dim +</text>
<text x="53.4" y="692.7" font-size="39.1" fill="#231815" text-anchor="start" font-weight="normal" textLength="76.6" lengthAdjust="spacingAndGlyphs"  stroke="#fff" stroke-width="0.8">Dim -</text>
<text x="54.9" y="759.6" font-size="39.1" fill="#231815" text-anchor="start" font-weight="normal" textLength="193" lengthAdjust="spacingAndGlyphs"  stroke="#fff" stroke-width="0.8">DIP switch for</text>
<text x="56.9" y="803.8" font-size="39.1" fill="#231815" text-anchor="start" font-weight="normal" textLength="318.2" lengthAdjust="spacingAndGlyphs"  stroke="#fff" stroke-width="0.8">0-10V or 1-10V select</text>
<text x="56.9" y="848" font-size="39.1" fill="#231815" text-anchor="start" font-weight="normal" textLength="396" lengthAdjust="spacingAndGlyphs"  stroke="#fff" stroke-width="0.8">and switch or dimmer select</text>
<text x="857.9" y="576.4" font-size="39.1" fill="#231815" text-anchor="start" font-weight="normal" textLength="174.1" lengthAdjust="spacingAndGlyphs"  stroke="#fff" stroke-width="0.8">AC L  output</text>
<text x="855.2" y="657.1" font-size="39.1" fill="#231815" text-anchor="start" font-weight="normal" textLength="150.4" lengthAdjust="spacingAndGlyphs"  stroke="#fff" stroke-width="0.8">AC L input</text>
<text x="852.2" y="746.4" font-size="39.1" fill="#231815" text-anchor="start" font-weight="normal" textLength="167.8" lengthAdjust="spacingAndGlyphs"  stroke="#fff" stroke-width="0.8">AC N  input</text>
<use href="#front"/>
<path d="M691.1 1078.2 L1152.7 1078.2" stroke="#28568f" stroke-width="1.4" fill="none"/>
<path d="M704.4 1147.4 L1152.7 1147.4" stroke="#28568f" stroke-width="1.4" fill="none"/>
<path d="M693 1218 L1152 1218" stroke="#28568f" stroke-width="1.4" fill="none"/>
<path d="M600.1 1292 L683.4 1375 L1114.2 1375" stroke="#28568f" stroke-width="1.4" fill="none"/>
<path d="M550.1 1292.7 L637.8 1446.4 L1114.2 1446.4" stroke="#28568f" stroke-width="1.4" fill="none"/>
<path d="M494.8 1293 L406.8 1446.4 L110.9 1446.4" stroke="#28568f" stroke-width="1.4" fill="none"/>
<text x="817.7" y="1065.2" font-size="39.1" fill="#231815" text-anchor="start" font-weight="normal" textLength="208.1" lengthAdjust="spacingAndGlyphs"  stroke="#fff" stroke-width="0.8">Detection area</text>
<text x="821.3" y="1130" font-size="39.1" fill="#231815" text-anchor="start" font-weight="normal" textLength="226.7" lengthAdjust="spacingAndGlyphs"  stroke="#fff" stroke-width="0.8">Time adjustment</text>
<text x="817.7" y="1197.8" font-size="39.1" fill="#231815" text-anchor="start" font-weight="normal" textLength="223.5" lengthAdjust="spacingAndGlyphs"  stroke="#fff" stroke-width="0.8">Light adjustment</text>
<text x="818.1" y="1356.8" font-size="39.1" fill="#231815" text-anchor="start" font-weight="normal" textLength="186.5" lengthAdjust="spacingAndGlyphs"  stroke="#fff" stroke-width="0.8">LED indicator</text>
<text x="818.5" y="1433.5" font-size="39.1" fill="#231815" text-anchor="start" font-weight="normal" textLength="153.2" lengthAdjust="spacingAndGlyphs"  stroke="#fff" stroke-width="0.8">Match key</text>
<text x="132.5" y="1422.6" font-size="39.1" fill="#231815" text-anchor="start" font-weight="normal" textLength="180.6" lengthAdjust="spacingAndGlyphs"  stroke="#fff" stroke-width="0.8">Light sensing</text>
<circle cx="1465" cy="497.8" r="177" stroke="#231815" stroke-width="1.3" fill="none" />
<circle cx="1465" cy="497.8" r="142.9" stroke="#231815" stroke-width="1.3" fill="none" />
<circle cx="1465" cy="497.8" r="65.7" stroke="#231815" stroke-width="1.6" fill="none" />
<circle cx="1361" cy="460.4" r="5.6" stroke="#231815" stroke-width="1.5" fill="none" />
<circle cx="1361" cy="535.2" r="5.6" stroke="#231815" stroke-width="1.5" fill="none" />
<line x1="1287" y1="262" x2="1287" y2="514" stroke="#777" stroke-width="1.3"/>
<line x1="1641.7" y1="264" x2="1641.7" y2="514" stroke="#777" stroke-width="1.3"/>
<line x1="1287" y1="293.2" x2="1368.6" y2="293.2" stroke="#231815" stroke-width="1.3"/>
<line x1="1564" y1="293.2" x2="1641.7" y2="293.2" stroke="#231815" stroke-width="1.3"/>
<text x="1380.5" y="300.7" font-size="37.21" fill="#231815" text-anchor="start" font-weight="normal" textLength="169.5" lengthAdjust="spacingAndGlyphs"  stroke="#fff" stroke-width="0.8">95.00 mm</text>
<path d="M1288.2 461 L1234.6 461 L1233 462.6 L1233 530.4 L1234.6 532 L1288.2 532Z" stroke="#231815" stroke-width="2.1" fill="none"/>
<line x1="1257.4" y1="461" x2="1257.4" y2="532" stroke="#231815" stroke-width="1.8"/>
<line x1="1263.3" y1="461" x2="1263.3" y2="532" stroke="#231815" stroke-width="1.8"/>
<path d="M1287.8 473.9 L1276.1 475 Q1273.2 475.5 1273 481.3 L1273 511.7 Q1273.2 517.5 1276.1 518 L1287.8 519.5" stroke="#231815" stroke-width="1.3" fill="none" />
<rect x="1267.2" y="484" width="2.7" height="25.4" rx="1.3" stroke="#231815" stroke-width="1.1" fill="none"/>
<path d="M1642.2 461 L1695.8 461 L1697.4 462.6 L1697.4 530.4 L1695.8 532 L1642.2 532Z" stroke="#231815" stroke-width="2.1" fill="none"/>
<line x1="1673" y1="461" x2="1673" y2="532" stroke="#231815" stroke-width="1.8"/>
<line x1="1667.1" y1="461" x2="1667.1" y2="532" stroke="#231815" stroke-width="1.8"/>
<path d="M1642.6 473.9 L1654.3 475 Q1657.2 475.5 1657.4 481.3 L1657.4 511.7 Q1657.2 517.5 1654.3 518 L1642.6 519.5" stroke="#231815" stroke-width="1.3" fill="none" />
<rect x="1660.5" y="484" width="2.7" height="25.4" rx="1.3" stroke="#231815" stroke-width="1.1" fill="none"/>
<line x1="1251.8" y1="747.2" x2="1251.8" y2="872.6" stroke="#231815" stroke-width="1.3"/>
<line x1="1690.6" y1="748.5" x2="1690.6" y2="856" stroke="#231815" stroke-width="1.3"/>
<line x1="1251.8" y1="782" x2="1348.2" y2="782" stroke="#231815" stroke-width="1.3"/>
<line x1="1594.5" y1="782" x2="1690.6" y2="782" stroke="#231815" stroke-width="1.3"/>
<text x="1396.3" y="788.6" font-size="38.37" fill="#231815" text-anchor="start" font-weight="normal" textLength="169.6" lengthAdjust="spacingAndGlyphs"  stroke="#fff" stroke-width="0.8">95.00 mm</text>
<path d="M1253.2 872.6 L1253.2 860 Q1253.6 855 1258 854 L1296.7 846.2 L1642.5 846.2 L1681.5 854.6 Q1686.9 856 1686.9 861 L1686.9 872.6 Z" stroke="#231815" stroke-width="1.4" fill="none" />
<line x1="1453.8" y1="844" x2="1823.4" y2="844" stroke="#231815" stroke-width="1.2"/>
<line x1="1314.7" y1="872.6" x2="1314.7" y2="1038" stroke="#231815" stroke-width="1.2"/>
<line x1="1318.4" y1="872.6" x2="1318.4" y2="1038" stroke="#231815" stroke-width="1.2"/>
<line x1="1621.4" y1="872.6" x2="1621.4" y2="1038" stroke="#231815" stroke-width="1.2"/>
<line x1="1625.4" y1="872.6" x2="1625.4" y2="1038" stroke="#231815" stroke-width="1.2"/>
<line x1="1314.7" y1="923.5" x2="1625.4" y2="923.5" stroke="#231815" stroke-width="1.2"/>
<line x1="1314.7" y1="939.9" x2="1625.4" y2="939.9" stroke="#231815" stroke-width="1.2"/>
<path d="M1314.7 999.3 L1292 999.3 L1292 941.2 L1648.4 941.2 L1648.4 999.3 L1625.4 999.3" stroke="#231815" stroke-width="1.4" fill="none"/>
<line x1="1294.5" y1="943" x2="1294.5" y2="999.3" stroke="#231815" stroke-width="1"/>
<line x1="1645.9" y1="943" x2="1645.9" y2="999.3" stroke="#231815" stroke-width="1"/>
<path d="M1314.7 1036 Q1315 1040.2 1319 1040.2 L1621 1040.2 Q1625.4 1040.2 1625.4 1036" stroke="#231815" stroke-width="1.4" fill="none" />
<line x1="1318.4" y1="1037.6" x2="1621.4" y2="1037.6" stroke="#231815" stroke-width="1"/>
<line x1="1597.7" y1="1040.2" x2="1823.4" y2="1040.2" stroke="#231815" stroke-width="1.2"/>
<line x1="1773.2" y1="844" x2="1773.2" y2="857" stroke="#231815" stroke-width="1.2"/>
<line x1="1773.2" y1="1026" x2="1773.2" y2="1040.2" stroke="#231815" stroke-width="1.2"/>
<line x1="1768.8" y1="852.8" x2="1773.2" y2="852.8" stroke="#231815" stroke-width="1.2"/>
<line x1="1768.8" y1="1031" x2="1773.2" y2="1031" stroke="#231815" stroke-width="1.2"/>
<text x="0" y="0" font-size="38.37" fill="#231815" textLength="165" lengthAdjust="spacingAndGlyphs" stroke="#fff" stroke-width="0.8" transform="translate(1783.8 1024.3) rotate(-90)">40.00 mm</text>
<path d="M1187 786.6 L1216.5 787.6 L1221.5 790.5 L1253 858 L1253 866 L1241 869.5 L1209 796.2 L1191 794.8 L1187.5 790.5Z" stroke="#231815" stroke-width="2.4" fill="none"/>
<path d="M1187 786.6 L1216.5 787.6 L1221.5 790.5 L1253 858 L1253 866 L1241 869.5 L1209 796.2 L1191 794.8 L1187.5 790.5Z" stroke="#fff" stroke-width="0.45" fill="none"/>
<line x1="1244.5" y1="868.5" x2="1292" y2="979" stroke="#231815" stroke-width="1.2"/>
<line x1="1249.5" y1="868" x2="1293" y2="970" stroke="#231815" stroke-width="1.2"/>
<path d="M1293.36 978.39 A12.3 12.3 0 1 0 1304.92 998.41" stroke="#231815" stroke-width="1.4" fill="none" />
<path d="M1294.89 983.53 A7 7 0 0 0 1296.11 997.47" stroke="#231815" stroke-width="1.2" fill="none" />
<path d="M1753.2 786.6 L1723.7 787.6 L1718.7 790.5 L1687.2 858 L1687.2 866 L1699.2 869.5 L1731.2 796.2 L1749.2 794.8 L1752.7 790.5Z" stroke="#231815" stroke-width="2.4" fill="none"/>
<path d="M1753.2 786.6 L1723.7 787.6 L1718.7 790.5 L1687.2 858 L1687.2 866 L1699.2 869.5 L1731.2 796.2 L1749.2 794.8 L1752.7 790.5Z" stroke="#fff" stroke-width="0.45" fill="none"/>
<line x1="1695.7" y1="868.5" x2="1648.2" y2="979" stroke="#231815" stroke-width="1.2"/>
<line x1="1690.7" y1="868" x2="1647.2" y2="970" stroke="#231815" stroke-width="1.2"/>
<path d="M1646.84 978.39 A12.3 12.3 0 1 1 1635.28 998.41" stroke="#231815" stroke-width="1.4" fill="none" />
<path d="M1645.31 983.53 A7 7 0 0 1 1644.09 997.47" stroke="#231815" stroke-width="1.2" fill="none" />
<line x1="1406" y1="1131" x2="1406" y2="1298.8" stroke="#231815" stroke-width="1.3"/>
<line x1="1611.3" y1="1131" x2="1611.3" y2="1298.8" stroke="#231815" stroke-width="1.3"/>
<line x1="1406" y1="1158" x2="1423" y2="1158" stroke="#231815" stroke-width="1.3"/>
<line x1="1594.3" y1="1158" x2="1611.3" y2="1158" stroke="#231815" stroke-width="1.3"/>
<text x="1425.4" y="1170.8" font-size="39.83" fill="#231815" text-anchor="start" font-weight="normal" textLength="167" lengthAdjust="spacingAndGlyphs"  stroke="#fff" stroke-width="0.8">86.00 mm</text>
<path d="M1285.4 1191.3 L1720.7 1191.3 L1729.3 1386.1 L1292.8 1386.1Z" stroke="#231815" stroke-width="1.1" fill="none"/>
<line x1="1286" y1="1205.6" x2="1721.2" y2="1204.6" stroke="#231815" stroke-width="1.1"/>
<ellipse cx="1508.3" cy="1289.5" rx="102.3" ry="36" stroke="#231815" stroke-width="1.1" fill="none"/>
<path d="M1406 1290 A102.3 48 0 0 0 1610.6 1290" stroke="#231815" stroke-width="1.1" fill="none" />
<text x="1300.9" y="1454.8" font-size="39.1" fill="#231815" text-anchor="start" font-weight="normal" textLength="395.8" lengthAdjust="spacingAndGlyphs"  stroke="#fff" stroke-width="0.8">Ceiling (drill hole Ø 86mm)</text>
<path d="M2466.5 424.3 C2474 385 2460 345 2430 317 C2395 283 2345 262 2295.6 261.3 C2240 260.5 2185 285 2149.3 329.3 L2124.7 319 C2121 360 2130 400 2152.7 435.6 L2230.1 357.3 L2192.7 345.4 C2225 310 2265 289 2312.6 289.3 C2370 290 2420 320 2446 355 C2462 378 2470 400 2466.5 424.3 Z" stroke="#231815" stroke-width="0" fill="#231815" />
<circle cx="2305" cy="605.8" r="163.4" stroke="#231815" stroke-width="1.3" fill="none" />
<circle cx="2305" cy="605.8" r="131.5" stroke="#231815" stroke-width="1.3" fill="none" />
<circle cx="2305" cy="605.8" r="60.4" stroke="#231815" stroke-width="1.4" fill="none" />
<circle cx="2270.3" cy="700.7" r="5" stroke="#231815" stroke-width="1.2" fill="none" />
<circle cx="2339.2" cy="700.7" r="5" stroke="#231815" stroke-width="1.2" fill="none" />
<path d="M2270.9 442.8 L2270.9 391.4 L2337.2 391.4 L2337.2 442.8" stroke="#231815" stroke-width="1.5" fill="none"/>
<line x1="2270.9" y1="414.3" x2="2337.2" y2="414.3" stroke="#231815" stroke-width="1.8"/>
<line x1="2270.9" y1="419.8" x2="2337.2" y2="419.8" stroke="#231815" stroke-width="1.3"/>
<rect x="2293" y="423.2" width="22" height="2.6" rx="1.3" stroke="#231815" stroke-width="1.1" fill="none"/>
<path d="M2283.5 442.6 L2284.5 432 Q2285 429 2289 428.8 L2320 428.8 Q2324 429 2324.5 432 L2325 442.6" stroke="#231815" stroke-width="1.2" fill="none" />
<path d="M2270.9 768.4 L2270.9 819.8 L2337.2 819.8 L2337.2 768.4" stroke="#231815" stroke-width="1.5" fill="none"/>
<line x1="2270.9" y1="796.9" x2="2337.2" y2="796.9" stroke="#231815" stroke-width="1.8"/>
<line x1="2270.9" y1="791.4" x2="2337.2" y2="791.4" stroke="#231815" stroke-width="1.3"/>
<rect x="2293" y="785.4" width="22" height="2.6" rx="1.3" stroke="#231815" stroke-width="1.1" fill="none"/>
<path d="M2283.5 768.6 L2284.5 779.2 Q2285 782.2 2289 782.4 L2320 782.4 Q2324 782.2 2324.5 779.2 L2325 768.6" stroke="#231815" stroke-width="1.2" fill="none" />
<path d="M2282 867.9 L2324.9 867.9 L2324.9 943.3 L2345.5 943.3 L2303 1017.9 L2260.6 943.3 L2282 943.3Z" stroke="#231815" stroke-width="0" fill="#231815"/>
<circle cx="2506.2" cy="1209.2" r="172.6" stroke="#231815" stroke-width="1.3" fill="none" />
<circle cx="2506.2" cy="1209.2" r="138.9" stroke="#231815" stroke-width="1.3" fill="none" />
<circle cx="2506.2" cy="1209.2" r="63.7" stroke="#231815" stroke-width="1.3" fill="none" />
<circle cx="2469.7" cy="1310.4" r="5.4" stroke="#231815" stroke-width="1.2" fill="none" />
<circle cx="2542.3" cy="1310.4" r="5.4" stroke="#231815" stroke-width="1.2" fill="none" />
<use href="#front" transform="translate(2125.5 1177) scale(0.69) translate(-550 -1146)"/>
<rect x="2089.7" y="954.2" width="69.7" height="53.3" rx="1" stroke="#231815" stroke-width="1.5" fill="none"/>
<line x1="2089.7" y1="977.4" x2="2159.4" y2="977.4" stroke="#231815" stroke-width="1.8"/>
<line x1="2089.7" y1="983.4" x2="2159.4" y2="983.4" stroke="#231815" stroke-width="1.3"/>
<rect x="2112.4" y="987.1" width="24.3" height="2.2" rx="1.1" stroke="#231815" stroke-width="1" fill="none"/>
<path d="M2103.3 1007.5 L2104.5 997 Q2105.5 993.3 2110 993.3 L2140 993.3 Q2144.5 993.3 2145.4 997 L2146.4 1007.5" stroke="#231815" stroke-width="1.2" fill="none" />
<line x1="2096.5" y1="1007.5" x2="2096.5" y2="1015.5" stroke="#231815" stroke-width="1"/>
<line x1="2100.5" y1="1007.5" x2="2100.5" y2="1015.5" stroke="#231815" stroke-width="1"/>
<line x1="2148" y1="1007.5" x2="2148" y2="1015.5" stroke="#231815" stroke-width="1"/>
<line x1="2152.6" y1="1007.5" x2="2152.6" y2="1015.5" stroke="#231815" stroke-width="1"/>
<rect x="2089.7" y="1345.9" width="69.7" height="53.3" rx="1" stroke="#231815" stroke-width="1.5" fill="none"/>
<line x1="2089.7" y1="1376" x2="2159.4" y2="1376" stroke="#231815" stroke-width="1.8"/>
<line x1="2089.7" y1="1370" x2="2159.4" y2="1370" stroke="#231815" stroke-width="1.3"/>
<rect x="2112.4" y="1364.1" width="24.3" height="2.2" rx="1.1" stroke="#231815" stroke-width="1" fill="none"/>
<path d="M2103.3 1345.9 L2104.5 1356.4 Q2105.5 1360.1 2110 1360.1 L2140 1360.1 Q2144.5 1360.1 2145.4 1356.4 L2146.4 1345.9" stroke="#231815" stroke-width="1.2" fill="none" />
<line x1="2096.5" y1="1345.9" x2="2096.5" y2="1337.9" stroke="#231815" stroke-width="1"/>
<line x1="2100.5" y1="1345.9" x2="2100.5" y2="1337.9" stroke="#231815" stroke-width="1"/>
<line x1="2148" y1="1345.9" x2="2148" y2="1337.9" stroke="#231815" stroke-width="1"/>
<line x1="2152.6" y1="1345.9" x2="2152.6" y2="1337.9" stroke="#231815" stroke-width="1"/>
<circle cx="2125.5" cy="1177" r="80.9" stroke="#231815" stroke-width="1.8" fill="none" />
<circle cx="2125.3" cy="1106" r="5" stroke="#231815" stroke-width="1.2" fill="#fff" />
<circle cx="2125.6" cy="1276.4" r="4.2" stroke="#231815" stroke-width="1.1" fill="none" />
<line x1="2216.5" y1="1124.3" x2="2229.1" y2="1136.9" stroke="#231815" stroke-width="3.2" stroke-linecap="round"/>
<line x1="2216.5" y1="1124.3" x2="2229.1" y2="1136.9" stroke="#fff" stroke-width="1.0" stroke-linecap="round"/>
<line x1="2232.3" y1="1171.1" x2="2244.9" y2="1183.7" stroke="#231815" stroke-width="3.2" stroke-linecap="round"/>
<line x1="2232.3" y1="1171.1" x2="2244.9" y2="1183.7" stroke="#fff" stroke-width="1.0" stroke-linecap="round"/>
<line x1="2216.9" y1="1217.1" x2="2229.5" y2="1229.7" stroke="#231815" stroke-width="3.2" stroke-linecap="round"/>
<line x1="2216.9" y1="1217.1" x2="2229.5" y2="1229.7" stroke="#fff" stroke-width="1.0" stroke-linecap="round"/>
</svg>
</body></html>
